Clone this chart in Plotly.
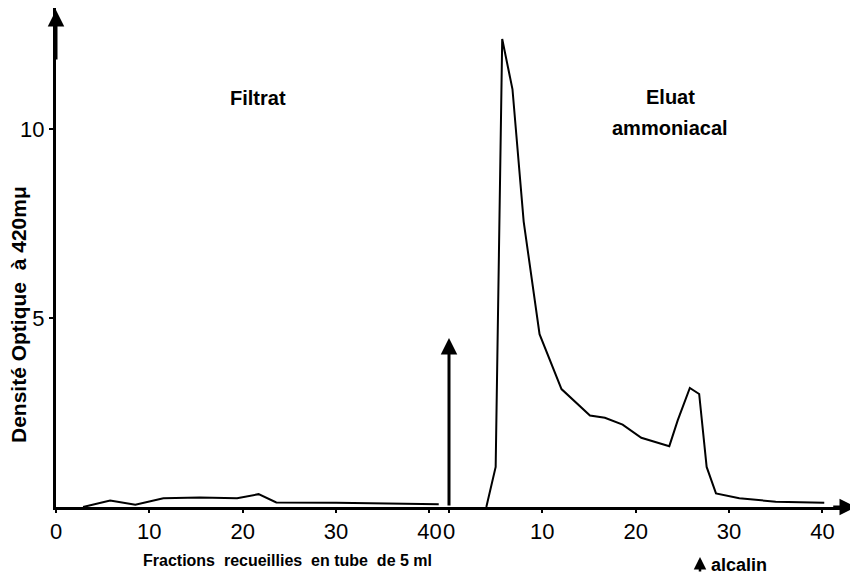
import plotly.graph_objects as go

# Filtrat (left panel)
filtrat_x = [2.9, 5.8, 8.5, 11.5, 15.4, 19.4, 21.7, 23.6, 30, 34, 41]
filtrat_y = [0.0, 0.17, 0.06, 0.23, 0.25, 0.23, 0.34, 0.12, 0.11, 0.09, 0.07]

# Eluat ammoniacal (right panel)
eluat_x = [4.0, 5.0, 5.7, 6.8, 8.0, 9.7, 12.05, 15.1, 16.7, 18.6, 20.6, 23.6,
           24.5, 25.8, 26.8, 27.6, 28.6, 31.1, 35.0, 40.2]
eluat_y = [0.0, 1.06, 12.38, 11.05, 7.55, 4.57, 3.12, 2.42, 2.36, 2.18, 1.83, 1.61,
           2.29, 3.15, 2.99, 1.06, 0.36, 0.23, 0.14, 0.11]

x_ticks = [0, 10, 20, 30, 40]
y_ticks = [5, 10]

FONT = "Liberation Sans"

# page has an 8px body margin: figure is drawn from (8, 8)
OFF = 8
W, H = 858 - OFF, 576 - OFF
L, R, T, B = 56 - OFF, 2, 0, 69
pw, ph = W - L - R, H - T - B

fig = go.Figure()
fig.add_trace(go.Scatter(x=filtrat_x, y=filtrat_y, mode="lines",
                         line=dict(color="black", width=2), xaxis="x", yaxis="y",
                         showlegend=False, cliponaxis=False))
fig.add_trace(go.Scatter(x=eluat_x, y=eluat_y, mode="lines",
                         line=dict(color="black", width=2), xaxis="x2", yaxis="y",
                         showlegend=False, cliponaxis=False))

tickfont = dict(family=FONT, size=22, color="black")
axis_common = dict(showline=True, linecolor="black", linewidth=3, showgrid=False,
                   zeroline=False, ticks="outside", ticklen=3, tickwidth=2,
                   tickcolor="black", tickvals=x_ticks, tickfont=tickfont)

fig.update_layout(
    width=W, height=H,
    margin=dict(l=L, r=R, t=T, b=B),
    paper_bgcolor="white", plot_bgcolor="white",
    xaxis=dict(domain=[0, 0.49125], range=[0, 42.1], anchor="y", **axis_common),
    xaxis2=dict(domain=[0.49125, 1], range=[0, 43.6], anchor="y", **axis_common),
    yaxis=dict(range=[0, 13.2], anchor="x", showline=True, linecolor="black",
               linewidth=3, showgrid=False, zeroline=False, ticks="outside",
               ticklen=4, tickwidth=2, tickcolor="black", tickvals=y_ticks,
               tickfont=tickfont),
)

annotations = [
    # y axis arrow head
    dict(x=0, y=13.15, ax=0, ay=11.8, xref="x", yref="y", axref="x", ayref="y",
         showarrow=True, arrowhead=2, arrowsize=1.1, arrowwidth=3, arrowcolor="black", text=""),
    # middle arrow (start of elution)
    dict(x=0, y=4.47, ax=0, ay=0, xref="x2", yref="y", axref="x2", ayref="y",
         showarrow=True, arrowhead=2, arrowsize=1.1, arrowwidth=3, arrowcolor="black", text=""),
    # x axis arrow head
    dict(x=43.6, y=0, ax=41, ay=0, xref="x2", yref="y", axref="x2", ayref="y",
         showarrow=True, arrowhead=2, arrowsize=1.1, arrowwidth=3, arrowcolor="black", text=""),
]

texts = [
    # (text, x_px, y_px, size, angle) in reference page pixels
    ("<b>Filtrat</b>", 258, 98, 20, 0),
    ("<b>Eluat</b>", 670, 97, 20, 0),
    ("<b>ammoniacal</b>", 670, 128, 20, 0),
    ("<b>Fractions  recueillies  en tube  de 5 ml</b>", 287, 560, 16, 0),
    ("<b>alcalin</b>", 739, 565, 18, 0),
    ("<b>Densité Optique  à 420mμ</b>", 18, 315, 21, -90),
]
for txt, xp, yp, sz, ang in texts:
    annotations.append(dict(
        x=(xp - OFF - L) / pw, y=1 - (yp - OFF - T) / ph, xref="paper", yref="paper",
        text=txt, showarrow=False, textangle=ang, xanchor="center", yanchor="middle",
        font=dict(family=FONT, size=sz, color="black")))

# small upward arrow in front of "alcalin"
annotations.append(dict(
    x=(700 - OFF - L) / pw, y=1 - (557 - OFF - T) / ph, xref="paper", yref="paper",
    ax=0, ay=16, showarrow=True, arrowhead=2, arrowsize=1, arrowwidth=2.5,
    arrowcolor="black", text=""))

fig.update_layout(annotations=annotations)
fig.write_html("out.html")
